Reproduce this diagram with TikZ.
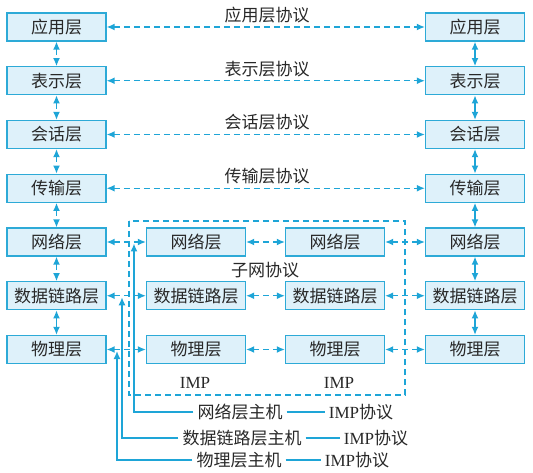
\documentclass[tikz,border=0pt]{standalone}
\usepackage{fontspec}
\setmainfont{Liberation Serif}
\newfontfamily\cjk{Noto Sans CJK SC}
\usetikzlibrary{arrows.meta}

\definecolor{boxline}{RGB}{45,170,215}
\definecolor{boxfill}{RGB}{222,241,250}
\definecolor{arrowc}{RGB}{30,165,215}
\definecolor{txt}{RGB}{40,40,40}

\tikzset{
  tip/.style={-{Latex[length=8pt,width=7pt]}},
  layer/.style={draw=boxline,fill=boxfill,line width=1.3pt,minimum width=99pt,minimum height=28pt,inner sep=0pt,font=\cjk\fontsize{17}{17}\selectfont,text=txt},
  lbl/.style={font=\cjk\fontsize{17}{17}\selectfont,text=txt,inner sep=1pt},
  imp/.style={font=\fontsize{17}{17}\selectfont,text=txt,inner sep=1pt},
  link/.style={arrowc,line width=1.4pt,{Latex[length=8pt,width=7pt]}-{Latex[length=8pt,width=7pt]}},
  dlink/.style={link,dash pattern=on 6pt off 4pt},
  host/.style={arrowc,line width=1.4pt},
}

\begin{document}
\begin{tikzpicture}[x=1pt,y=-1pt]
    \useasboundingbox(0,0)rectangle(533,473);

    % host A
    \node[layer](L1)at(56.5,27){应用层};
    \node[layer](L2)at(56.5,80.75){表示层};
    \node[layer](L3)at(56.5,134.5){会话层};
    \node[layer](L4)at(56.5,188.25){传输层};
    \node[layer](L5)at(56.5,242){网络层};
    \node[layer](L6)at(56.5,295.75){数据链路层};
    \node[layer](L7)at(56.5,349.5){物理层};

    % host B
    \node[layer](R1)at(475,27){应用层};
    \node[layer](R2)at(475,80.75){表示层};
    \node[layer](R3)at(475,134.5){会话层};
    \node[layer](R4)at(475,188.25){传输层};
    \node[layer](R5)at(475,242){网络层};
    \node[layer](R6)at(475,295.75){数据链路层};
    \node[layer](R7)at(475,349.5){物理层};

    % the two IMPs
    \node[layer](A5)at(196,242){网络层};
    \node[layer](A6)at(196,295.75){数据链路层};
    \node[layer](A7)at(196,349.5){物理层};
    \node[layer](B5)at(335,242){网络层};
    \node[layer](B6)at(335,295.75){数据链路层};
    \node[layer](B7)at(335,349.5){物理层};

    \draw[dlink](L1)--(L2);
    \draw[dlink](L2)--(L3);
    \draw[dlink](L3)--(L4);
    \draw[dlink](L4)--(L5);
    \draw[dlink](L5)--(L6);
    \draw[link](L6)--(L7);
    \draw[link](R1)--(R2);
    \draw[link](R2)--(R3);
    \draw[link](R3)--(R4);
    \draw[link](R4)--(R5);
    \draw[link](R5)--(R6);
    \draw[link](R6)--(R7);

    % peer protocols
    \draw[dlink](L1)--(R1);
    \draw[dlink](L2)--(R2);
    \draw[dlink](L3)--(R3);
    \draw[dlink](L4)--(R4);
    \node[lbl](p1)at(267,15){应用层协议};
    \node[lbl](p2)at(267,69){表示层协议};
    \node[lbl](p3)at(267,122.5){会话层协议};
    \node[lbl](p4)at(267,176){传输层协议};

    \draw[dlink](L5)--(A5);
    \draw[dlink](A5)--(B5);
    \draw[dlink](B5)--(R5);
    \draw[dlink](L6)--(A6);
    \draw[dlink](A6)--(B6);
    \draw[dlink](B6)--(R6);
    \draw[dlink](L7)--(A7);
    \draw[dlink](A7)--(B7);
    \draw[dlink](B7)--(R7);

    % subnet
    \draw[arrowc,line width=1.3pt,dash pattern=on 6pt off 4pt](129,221)rectangle(405,395);
    \node[lbl](sub)at(265,270){子网协议};
    \node[imp](imp1)at(195,383){IMP};
    \node[imp](imp2)at(339,383){IMP};

    % hosts
    \coordinate(T5)at(134,243.5);
    \coordinate(T6)at(122,297.25);
    \coordinate(T7)at(117,351);
    \node[lbl,inner sep=4pt](H5)at(240,412){网络层主机};
    \node[lbl,inner sep=4pt](H6)at(242,438){数据链路层主机};
    \node[lbl,inner sep=4pt](H7)at(239,460){物理层主机};
    \node[imp,inner sep=4pt](P5)at(361,412){IMP{\cjk 协议}};
    \node[imp,inner sep=4pt](P6)at(376,438){IMP{\cjk 协议}};
    \node[imp,inner sep=4pt](P7)at(357,460){IMP{\cjk 协议}};
    \draw[host,tip](H5.west)-|(T5);
    \draw[host,tip](H6.west)-|(T6);
    \draw[host,tip](H7.west)-|(T7);
    \draw[host](H5)--(P5);
    \draw[host](H6)--(P6);
    \draw[host](H7)--(P7);
\end{tikzpicture}
\end{document}
